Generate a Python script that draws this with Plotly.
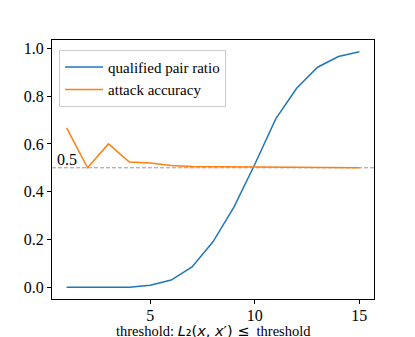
import plotly.graph_objects as go

thresholds = list(range(1, 16))
qualified_pair_ratio = [0.0, 0.0, 0.0, 0.0, 0.008, 0.03, 0.085, 0.19, 0.335,
                        0.515, 0.705, 0.833, 0.921, 0.966, 0.986]
attack_accuracy = [0.667, 0.5, 0.6, 0.524, 0.52, 0.51, 0.505, 0.504, 0.503,
                   0.502, 0.502, 0.501, 0.501, 0.501, 0.5]

SERIF = "Liberation Serif, Times New Roman, serif"
BLUE = "#1f77b4"
ORANGE = "#ff7f0e"

fig = go.Figure()
fig.add_trace(go.Scatter(x=thresholds, y=qualified_pair_ratio, mode="lines",
                         name="qualified pair ratio",
                         line=dict(color=BLUE, width=1.5)))
fig.add_trace(go.Scatter(x=thresholds, y=attack_accuracy, mode="lines",
                         name="attack accuracy",
                         line=dict(color=ORANGE, width=1.5)))

# chance line
fig.add_hline(y=0.5, line_color="#999999", line_dash="4px,2px", line_width=1,
              layer="below")
fig.add_annotation(x=0.45, y=0.49, xref="x", yref="y", text="0.5",
                   showarrow=False, xanchor="left", yanchor="bottom",
                   font=dict(family=SERIF, size=16, color="black"))

# x label as annotation; unicode subscript keeps the line box short
xlabel = ("threshold: <span style='font-family:DejaVu Sans'><i>L</i>₂(<i>x</i>, "
          "<i>x</i>′) ≤</span>  threshold")
fig.add_annotation(x=0.5, y=0, xref="paper", yref="paper", text=xlabel,
                   showarrow=False, xanchor="center", yanchor="top",
                   yshift=-23, borderpad=0,
                   font=dict(family=SERIF, size=14.5, color="black"))

# page body has an 8px margin, so the figure is 8px smaller each way
fig.update_layout(
    width=407, height=329,
    paper_bgcolor="white", plot_bgcolor="white",
    margin=dict(l=44, r=41, t=32, b=38),
    font=dict(family=SERIF, size=16, color="black"),
    showlegend=True,
    legend=dict(x=0.022, y=0.962, xanchor="left", yanchor="top",
                bgcolor="rgba(255,255,255,0.8)", bordercolor="#cccccc",
                borderwidth=1, font=dict(family=SERIF, size=15),
                itemwidth=38, tracegroupgap=0),
)
fig.update_xaxes(range=[0.3, 15.7], tickvals=[5, 10, 15], ticks="outside",
                 ticklen=4, tickcolor="black", showline=True, mirror=True,
                 linecolor="black", linewidth=1, showgrid=False, zeroline=False,
                 ticklabelstandoff=-2,
                 tickfont=dict(family=SERIF, size=16))
fig.update_yaxes(range=[-0.0493, 1.035], tickvals=[0, 0.2, 0.4, 0.6, 0.8, 1.0],
                 tickformat=".1f", ticks="outside", ticklen=4,
                 tickcolor="black", showline=True, mirror=True,
                 linecolor="black", linewidth=1, showgrid=False,
                 zeroline=False, tickfont=dict(family=SERIF, size=16))

fig.write_html("out.html")
